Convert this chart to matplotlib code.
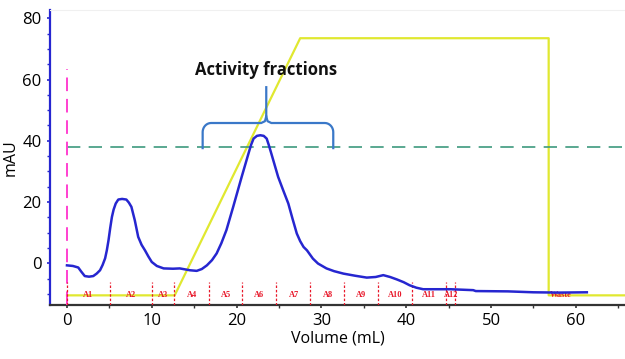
import matplotlib
matplotlib.use("Agg")
import matplotlib.pyplot as plt
import numpy as np

# UV trace (mAU)
volume = [0, 0.7, 1.33, 1.7, 2.1, 2.6, 3.1, 3.5, 3.9, 4.2, 4.5, 4.7, 4.9, 5.1, 5.3, 5.5, 5.75, 6.05, 6.5,
          7.0, 7.3, 7.6, 8.0, 8.4, 8.8, 9.2, 9.6, 10.0, 10.6, 11.4, 12.5, 13.3, 14.5, 15.3, 15.9, 16.5,
          17.1, 17.65, 18.2, 18.8, 19.2, 19.6, 20.1, 20.6, 21.0, 21.4, 21.7, 22.0, 22.4, 22.8, 23.2,
          23.55, 23.8, 24.1, 24.5, 24.9, 25.5, 26.1, 26.6, 27.1, 27.5, 27.9, 28.3, 29.0, 29.6, 30.6,
          31.5, 32.6, 34.0, 35.35, 36.4, 37.3, 38.1, 38.9, 39.7, 40.4, 41.2, 42.0, 45.2, 47.9, 48.2,
          52.0, 55.0, 58.0, 61.3]
mau = [-0.7, -0.9, -1.4, -2.8, -4.2, -4.4, -4.2, -3.4, -2.3, -0.6, 1.6, 4.2, 7.5, 11.5, 15.1, 17.5, 19.5, 20.8, 21.0,
       20.8, 19.8, 18.4, 14.0, 8.6, 6.0, 4.2, 2.2, 0.4, -0.9, -1.7, -1.8, -1.7, -2.3, -2.5, -1.9, -0.7,
       1.0, 3.2, 6.5, 10.8, 14.6, 18.4, 23.3, 28.2, 32.0, 35.8, 38.6, 40.7, 41.6, 41.8, 41.6,
       40.7, 38.6, 35.8, 32.0, 28.2, 23.8, 19.5, 14.5, 9.7, 7.2, 5.3, 4.2, 1.5, -0.1, -1.7,
       -2.6, -3.4, -4.1, -4.7, -4.5, -3.9, -4.5, -5.3, -6.2, -7.2, -8.0, -8.5, -8.5, -8.8, -9.1,
       -9.2, -9.5, -9.6, -9.5]

# Gradient (% B scaled to mAU axis)
grad_x = [0, 12.7, 27.5, 56.8, 56.8, 66]
grad_y = [-10.5, -10.5, 73.5, 73.5, -10.5, -10.5]

# Threshold dashed line
thresh_y = 38.0

# Fraction boundaries and labels
frac_edges = [0, 5.1, 10.0, 12.6, 16.8, 20.6, 24.7, 28.7, 32.7, 36.7, 40.7, 44.7, 45.8]
frac_labels = ["A1", "A2", "A3", "A4", "A5", "A6", "A7", "A8", "A9", "A10", "A11", "A12"]
frac_label_x = [2.5, 7.5, 11.3, 14.7, 18.7, 22.7, 26.8, 30.8, 34.7, 38.7, 42.7, 45.3]
waste_x = 58.2

fig = plt.figure(figsize=(6.25, 3.59), dpi=100)
ax = fig.add_axes([0.08, 0.15, 0.92, 0.822])
ax.set_xlim(-2, 65.8)
ax.set_ylim(-13.7, 82.7)

# gradient
ax.plot(grad_x, grad_y, color="#e0e830", lw=1.6, zorder=2)
# threshold line
ax.plot([0, 66], [thresh_y, thresh_y], color="#3d9a7e", lw=1.2, ls=(0, (8, 5)), zorder=2)
# injection mark
ax.plot([0, 0], [-13.7, 63.5], color="#ff40d0", lw=1.4, ls=(0, (7, 4)), zorder=3)

# fraction markers
for e in frac_edges:
    ax.plot([e, e], [-13.7, -6.3], color="#e8182a", lw=0.9, ls=(0, (2, 1.5)), zorder=3)
for lab, lx in zip(frac_labels, frac_label_x):
    ax.text(lx, -10.5, lab, color="#e8182a", fontsize=6, fontweight="bold",
            family="Liberation Serif", ha="center", va="center", zorder=4)
ax.text(waste_x, -10.3, "Waste", color="#e8182a", fontsize=6, fontweight="bold",
        family="Liberation Serif", ha="center", va="center", zorder=4)

# UV trace
ax.plot(volume, mau, color="#2626d0", lw=1.8, zorder=5, solid_joinstyle="round")

# bracket
bx0, bx1, bxm = 16.0, 31.4, 23.5
by_low, by_mid, by_top = 37.6, 45.8, 57.5
bc = "#3a78c8"
t = np.linspace(0, np.pi / 2, 12)
rx, ry = 1.0, 3.0
# left arm: vertical then rounded corner then horizontal
lx = [bx0, bx0] + list(bx0 + rx - rx * np.cos(t)) + [bxm - 0.6, bxm - 0.15, bxm, bxm]
ly = [by_low, by_mid - ry] + list(by_mid - ry + ry * np.sin(t)) + [by_mid, by_mid + 0.6, by_mid + 2.2, by_top]
ax.plot(lx, ly, color=bc, lw=1.6, zorder=6)
rxs = [bx1, bx1] + list(bx1 - rx + rx * np.cos(t)) + [bxm + 0.6, bxm + 0.15, bxm]
rys = [by_low, by_mid - ry] + list(by_mid - ry + ry * np.sin(t)) + [by_mid, by_mid + 0.6, by_mid + 2.2]
ax.plot(rxs, rys, color=bc, lw=1.6, zorder=6)
ax.text(23.5, 63.2, "Activity fractions", fontsize=12, fontweight="bold", family="Open Sans",
        ha="center", va="center", color="#111111")

# axes styling
ax.spines["right"].set_visible(False)
ax.spines["top"].set_color("#f0f0f0")
ax.spines["left"].set_color("#2626d0")
ax.spines["left"].set_linewidth(1.6)
ax.spines["bottom"].set_color("#333333")
ax.spines["bottom"].set_linewidth(1.6)

ax.set_xticks([0, 10, 20, 30, 40, 50, 60])
ax.set_yticks([0, 20, 40, 60, 80])
ax.set_xticks(np.arange(0, 66, 5), minor=True)
ax.set_yticks(np.arange(-10, 82, 5), minor=True)
ax.tick_params(axis="both", which="major", labelsize=12, length=2.5, width=1.2)
ax.tick_params(axis="y", which="both", colors="#2626d0", labelcolor="black")
ax.tick_params(axis="x", which="both", colors="#333333", labelcolor="black")
ax.tick_params(which="minor", length=2, width=1)
for lbl in ax.get_xticklabels() + ax.get_yticklabels():
    lbl.set_family("Open Sans")
ax.set_xlabel("Volume (mL)", fontsize=11.5, family="Open Sans", labelpad=1)
ax.set_ylabel("mAU", fontsize=11.5, family="Open Sans", labelpad=3)

fig.savefig("out.png", dpi=100)
